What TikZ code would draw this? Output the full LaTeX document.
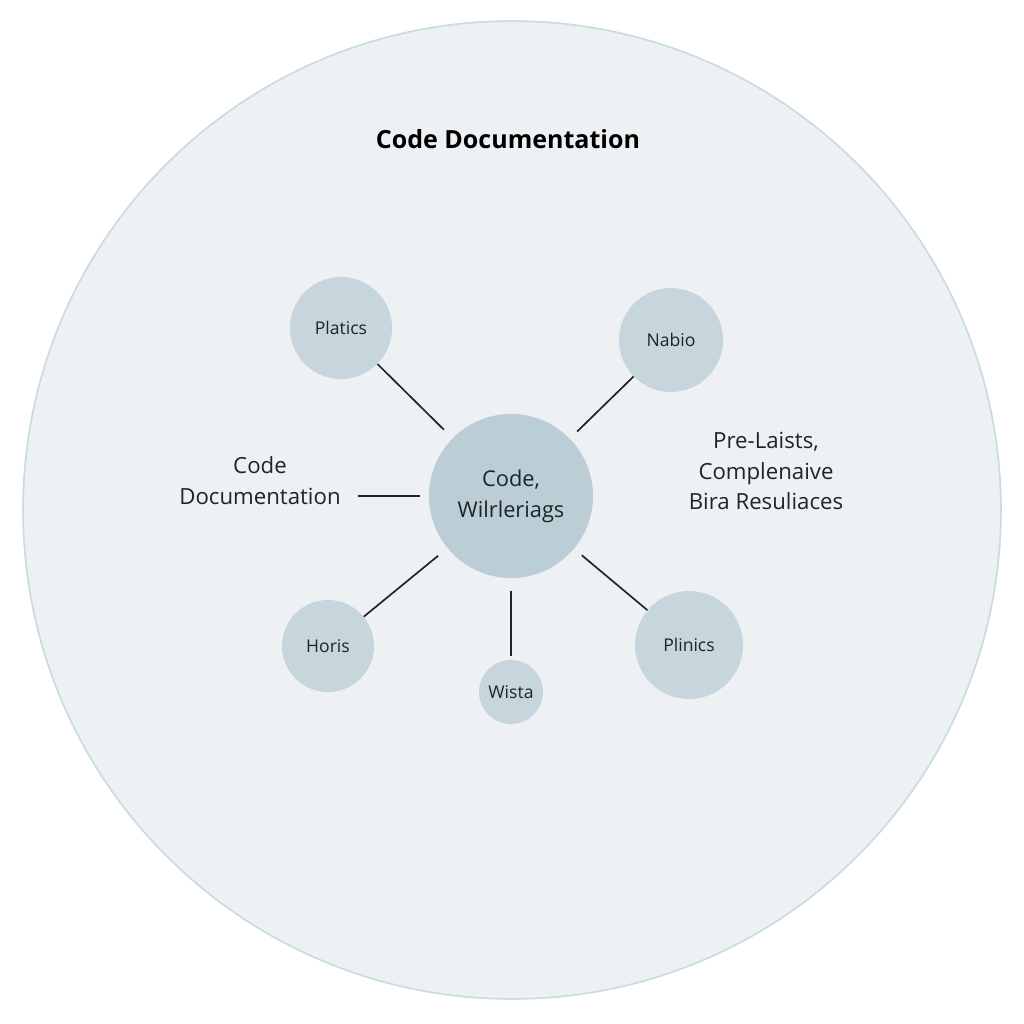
\documentclass[tikz,border=0pt]{standalone}
\usepackage{fontspec}
\setmainfont{Open Sans}
\usetikzlibrary{calc}
\usetikzlibrary{positioning}
\definecolor{ringfill}{HTML}{EEF1F3}
\definecolor{ringline}{HTML}{C9DCE1}
\definecolor{bubblefill}{HTML}{C7D6DC}
\definecolor{hubfill}{HTML}{BBCED6}
\definecolor{inkgray}{HTML}{1E2427}
\tikzset{
	bubble/.style={
		circle,
		fill=bubblefill,
		inner sep=0pt,
		text=inkgray,
		font=\fontsize{12.5}{15}\selectfont},
	hub/.style={
		circle,
		fill=hubfill,
		inner sep=0pt,
		minimum size=4.1cm,
		text=inkgray,
		align=center,
		font=\fontsize{15.5}{22}\selectfont},
	caption/.style={
		align=center,
		text=inkgray,
		font=\fontsize{15.8}{22}\selectfont},
	spoke/.style={draw=inkgray, line width=1.2pt},
}

\begin{document}
\begin{tikzpicture}[x=0.025cm, y=-0.025cm]
	\fill[white] (0,0) rectangle (1024,1024);
	\useasboundingbox (0,0) rectangle (1024,1024);
	% outer ring
	\draw[fill=ringfill, draw=ringline, line width=1.2pt] (512,510) circle [radius=12.22cm];
	\node[font=\bfseries\fontsize{17.8}{20}\selectfont, text=black] (titel) at (508,139) {Code Documentation};

	\node[hub] (hub) at (511,496) {Code,\\Wilrleriags};
	\node[bubble, minimum size=2.55cm] (platics) at (341,328) {Platics};
	\node[bubble, minimum size=2.6cm] (nabio) at (671,340) {Nabio};
	\node[bubble, minimum size=2.3cm] (horis) at (328,646) {Horis};
	\node[bubble, minimum size=1.6cm] (wista) at (511,692) {Wista};
	\node[bubble, minimum size=2.7cm] (plinics) at (689,645) {Plinics};

	\node[caption] (doku) at (260,481) {Code\\Documentation};
	\node[caption] (ressourcen) at (766,471) {Pre-Laists,\\Complenaive\\Bira Resuliaces};

	\draw[spoke, shorten <=0.3cm] (hub) -- (platics);
	\draw[spoke, shorten <=0.25cm] (hub) -- (nabio);
	\draw[spoke, shorten <=0.3cm] (hub) -- (horis);
	\draw[spoke, shorten <=0.32cm, shorten >=0.1cm] (hub) -- (wista);
	\draw[spoke, shorten <=0.25cm] (hub) -- (plinics);
	\draw[spoke, shorten <=0.3cm, shorten >=0.22cm] (doku.east |- hub) -- (hub);
\end{tikzpicture}
\end{document}
